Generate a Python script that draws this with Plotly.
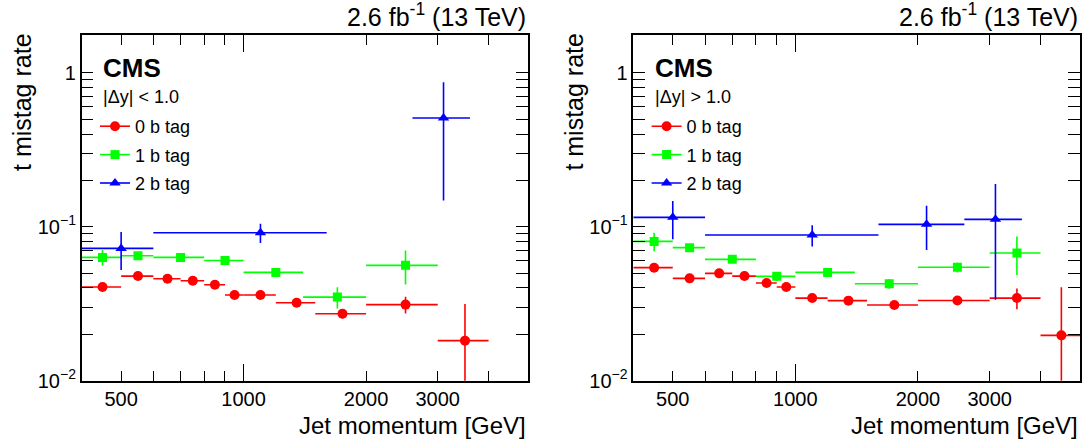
import plotly.graph_objects as go

# ---------------- data ----------------
# Left panel |dy| < 1.0
L0_lo = [400, 500, 600, 700, 800, 900, 1000, 1200, 1500, 2000, 3000]
L0_hi = [500, 600, 700, 800, 900, 1000, 1200, 1500, 2000, 3000, 4000]
L0_y = [0.0406, 0.0478, 0.0459, 0.0446, 0.0420, 0.0360, 0.0360, 0.0321, 0.0272, 0.0312, 0.0182]
L0_eu = [0.0015, 0.0012, 0.0010, 0.0010, 0.0010, 0.0010, 0.0012, 0.0012, 0.0019, 0.0039, 0.0133]
L0_ed = [0.0015, 0.0012, 0.0010, 0.0010, 0.0010, 0.0010, 0.0012, 0.0012, 0.0019, 0.0039, 0.0130]

L1_lo = [400, 500, 600, 800, 1000, 1400, 2000]
L1_hi = [500, 600, 800, 1000, 1400, 2000, 3000]
L1_y = [0.0632, 0.0648, 0.0632, 0.0604, 0.0505, 0.0349, 0.0561]
L1_e = [0.0075, 0.0030, 0.0020, 0.0020, 0.0030, 0.0055, 0.0140]

L2_lo = [400, 600, 2600]
L2_hi = [600, 1600, 3600]
L2_y = [0.0723, 0.0914, 0.508]
L2_e = [0.020, 0.013, 0.36]

# Right panel |dy| > 1.0
R0_lo = [400, 500, 600, 700, 800, 900, 1000, 1200, 1500, 2000, 3000, 4000]
R0_hi = [500, 600, 700, 800, 900, 1000, 1200, 1500, 2000, 3000, 4000, 5000]
R0_y = [0.0542, 0.0462, 0.0498, 0.0478, 0.0431, 0.0406, 0.0344, 0.0331, 0.0310, 0.0332, 0.0344, 0.0197]
R0_eu = [0.0015, 0.0010, 0.0010, 0.0010, 0.0010, 0.0010, 0.0010, 0.0010, 0.0010, 0.0012, 0.0053, 0.0207]
R0_ed = [0.0015, 0.0010, 0.0010, 0.0010, 0.0010, 0.0010, 0.0010, 0.0010, 0.0010, 0.0012, 0.0053, 0.0150]

R1_lo = [400, 500, 600, 800, 1000, 1400, 2000, 3000]
R1_hi = [500, 600, 800, 1000, 1400, 2000, 3000, 4000]
R1_y = [0.0803, 0.0731, 0.0614, 0.0476, 0.0505, 0.0426, 0.0545, 0.0675]
R1_e = [0.011, 0.003, 0.002, 0.003, 0.002, 0.003, 0.004, 0.019]

R2_lo = [400, 600, 1600, 2600]
R2_hi = [600, 1600, 2600, 3600]
R2_y = [0.115, 0.0883, 0.1036, 0.1116]
R2_e = [0.032, 0.014, 0.033, 0.078]

series_names = ["0 b tag", "1 b tag", "2 b tag"]
x_label_ticks = [500, 1000, 2000, 3000]
x_minor_ticks = [600, 700, 800, 900, 4000]
y_ticks = [0.01, 0.1, 1]
y_ticktext = ["10<sup>\u22122</sup>", "10<sup>\u22121</sup>", "1"]

# ---------------- styling ----------------
FONT = "Liberation Sans, Arial, Helvetica, sans-serif"
COLORS = ["#ff0000", "#00ff00", "#0000ff"]
SYMBOLS = ["circle", "square", "triangle-up"]
MSIZE = [10, 9, 10]
W, H = 1086, 441

fig = go.Figure()


def add_series(lo, hi, y, eu, ed, k, xa, ya):
    xc = [(a + b) / 2 for a, b in zip(lo, hi)]
    fig.add_trace(go.Scatter(
        x=xc, y=y, mode="markers", xaxis=xa, yaxis=ya, showlegend=False,
        marker=dict(color=COLORS[k], symbol=SYMBOLS[k], size=MSIZE[k], line=dict(width=0)),
        error_x=dict(type="data", symmetric=False,
                     array=[b - c for b, c in zip(hi, xc)],
                     arrayminus=[c - a for a, c in zip(lo, xc)],
                     color=COLORS[k], thickness=1.6, width=0),
        error_y=dict(type="data", symmetric=False, array=eu, arrayminus=ed,
                     color=COLORS[k], thickness=1.6, width=0),
        cliponaxis=True,
    ))


add_series(L0_lo, L0_hi, L0_y, L0_eu, L0_ed, 0, "x", "y")
add_series(L1_lo, L1_hi, L1_y, L1_e, L1_e, 1, "x", "y")
add_series(L2_lo, L2_hi, L2_y, L2_e, L2_e, 2, "x", "y")
add_series(R0_lo, R0_hi, R0_y, R0_eu, R0_ed, 0, "x2", "y2")
add_series(R1_lo, R1_hi, R1_y, R1_e, R1_e, 1, "x2", "y2")
add_series(R2_lo, R2_hi, R2_y, R2_e, R2_e, 2, "x2", "y2")

# legend entries
for leg, xa, ya in [("legend", "x", "y"), ("legend2", "x2", "y2")]:
    for k, nm in enumerate(series_names):
        fig.add_trace(go.Scatter(
            x=[None], y=[None], mode="lines+markers", name=nm, xaxis=xa, yaxis=ya,
            legend=leg, legendgroup=leg + str(k),
            line=dict(color=COLORS[k], width=1.6),
            marker=dict(color=COLORS[k], symbol=SYMBOLS[k], size=MSIZE[k]),
        ))

# invisible traces for the overlay axes (long tick at 1000)
fig.add_trace(go.Scatter(x=[None], y=[None], xaxis="x3", yaxis="y", showlegend=False))
fig.add_trace(go.Scatter(x=[None], y=[None], xaxis="x4", yaxis="y2", showlegend=False))

L_dom = [81.7 / W, 528.0 / W]
R_dom = [633.3 / W, 1080.0 / W]
Y_dom = [1 - 380.7 / H, 1 - 35.0 / H]
xr = [2.60206, 3.69897]
yr = [-2, 0.245]

xcommon = dict(type="log", range=xr, showline=True, linecolor="black", linewidth=1.5,
               mirror="allticks", ticks="inside", ticklen=10, tickwidth=1.3, tickcolor="black",
               tickmode="array", tickvals=x_label_ticks, ticktext=[str(v) for v in x_label_ticks],
               tickfont=dict(family=FONT, size=20, color="black"),
               minor=dict(ticks="inside", ticklen=10, tickwidth=1.3, tickcolor="black",
                          tickmode="array", tickvals=x_minor_ticks, showgrid=False),
               showgrid=False, zeroline=False, automargin=False, ticklabelstandoff=0)
ycommon = dict(type="log", range=yr, showline=True, linecolor="black", linewidth=1.5,
               mirror="allticks", ticks="inside", ticklen=12, tickwidth=1.3, tickcolor="black",
               tickmode="array", tickvals=y_ticks, ticktext=y_ticktext,
               tickfont=dict(family=FONT, size=20, color="black"),
               minor=dict(ticks="inside", ticklen=6, tickwidth=1.3, tickcolor="black",
                          dtick="D1", showgrid=False),
               showgrid=False, zeroline=False, automargin=False, ticklabelstandoff=0)
xover = dict(type="log", range=xr, showline=False, ticks="inside", ticklen=17, tickwidth=1.3,
             tickcolor="black", mirror="allticks", tickmode="array", tickvals=[1000],
             showticklabels=False, showgrid=False, zeroline=False, automargin=False)

fig.update_layout(
    width=W, height=H,
    margin=dict(l=0, r=0, t=0, b=0),
    paper_bgcolor="white", plot_bgcolor="white",
    font=dict(family=FONT, color="black"),
    xaxis=dict(domain=L_dom, anchor="y", **xcommon),
    yaxis=dict(domain=Y_dom, anchor="x", **ycommon),
    xaxis2=dict(domain=R_dom, anchor="y2", **xcommon),
    yaxis2=dict(domain=Y_dom, anchor="x2", **ycommon),
    xaxis3=dict(domain=L_dom, anchor="y", overlaying="x", **xover),
    xaxis4=dict(domain=R_dom, anchor="y2", overlaying="x2", **xover),
    legend=dict(x=95 / W, y=1 - 108 / H, xanchor="left", yanchor="top",
                bgcolor="rgba(0,0,0,0)", font=dict(family=FONT, size=18, color="black"),
                tracegroupgap=2, itemwidth=30),
    legend2=dict(x=(95 + 551.6) / W, y=1 - 108 / H, xanchor="left", yanchor="top",
                 bgcolor="rgba(0,0,0,0)", font=dict(family=FONT, size=18, color="black"),
                 tracegroupgap=2, itemwidth=30),
    showlegend=True,
)

annots = []
for xd, ytitle_x, sel in [("x", 22, "|\u0394y| < 1.0"), ("x2", 22 + 551.6, "|\u0394y| > 1.0")]:
    annots += [
        dict(text="2.6 fb<sup>-1</sup> (13 TeV)", xref=xd + " domain", yref="paper",
             x=1.0, y=1 - 33 / H, xanchor="right", yanchor="bottom", showarrow=False,
             font=dict(family=FONT, size=25, color="black")),
        dict(text="<b>CMS</b>", xref=xd + " domain", yref="paper",
             x=(101 - 81.7) / 446.3, y=1 - 68 / H, xanchor="left", yanchor="middle", showarrow=False,
             font=dict(family=FONT, size=26, color="black")),
        dict(text=sel, xref=xd + " domain", yref="paper",
             x=(101 - 81.7) / 446.3, y=1 - 97 / H, xanchor="left", yanchor="middle", showarrow=False,
             font=dict(family=FONT, size=18, color="black")),
        dict(text="Jet momentum [GeV]", xref=xd + " domain", yref="paper",
             x=1.0, y=1 - 425 / H, xanchor="right", yanchor="middle", showarrow=False,
             font=dict(family=FONT, size=24, color="black")),
        dict(text="t mistag rate", xref="paper", yref="paper", textangle=-90,
             x=ytitle_x / W, y=1 - 31 / H, xanchor="center", yanchor="top", showarrow=False,
             font=dict(family=FONT, size=25, color="black")),
    ]
fig.update_layout(annotations=annots)

fig.write_html("out.html", config={"displayModeBar": False},
               post_script="document.body.style.margin='0';document.body.style.overflow='hidden';")
